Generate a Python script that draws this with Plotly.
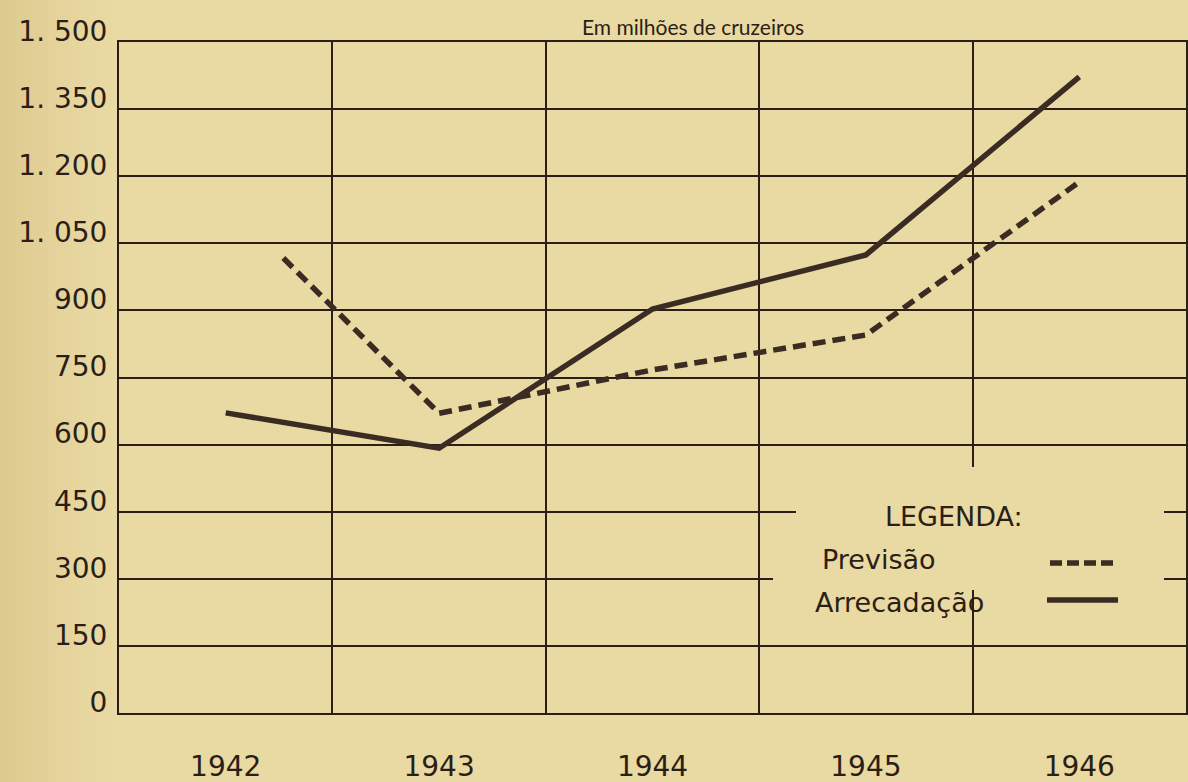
import plotly.graph_objects as go

# ---- data ----
years = [1942, 1943, 1944, 1945, 1946]
year_labels = ["1942", "1943", "1944", "1945", "1946"]
arrecadacao = [671, 592, 903, 1024, 1422]
previsao_x = [1942.27, 1943, 1944, 1945, 1946]
previsao = [1017, 670, 767, 845, 1187]
y_ticks = [0, 150, 300, 450, 600, 750, 900, 1050, 1200, 1350, 1500]
y_ticktext = ["0", "150", "300", "450", "600", "750", "900",
              "1. 050", "1. 200", "1. 350", "1. 500"]
col_bounds = [1942.5, 1943.5, 1944.5, 1945.5]

# ---- layout geometry ----
W, H = 1188, 782
L, R, T, B = 119, 1186, 42, 713
BG = "#e9d9a2"
INK = "#2b1e17"
LINE = "#3a2b23"
FONT = "DejaVu Sans"
TFONT = "Lato"


def px(xp):
    return (xp - L) / (R - L)


def py(yp):
    return (B - yp) / (B - T)


fig = go.Figure()
fig.add_trace(go.Scatter(
    x=previsao_x, y=previsao, mode="lines", name="Previsão",
    line=dict(color=LINE, width=5.5, dash="13px,7px"),
    showlegend=False, hoverinfo="skip"))
fig.add_trace(go.Scatter(
    x=years, y=arrecadacao, mode="lines", name="Arrecadação",
    line=dict(color=LINE, width=5.5),
    showlegend=False, hoverinfo="skip"))

shapes = []
# darker paper towards the left edge of the scan
n_strips = 14
for i in range(n_strips):
    shapes.append(dict(
        type="rect", xref="paper", yref="paper", layer="below",
        x0=px(i * 8), x1=px(i * 8 + 8), y0=py(H + 60), y1=py(-60),
        fillcolor="#b89a55", opacity=0.24 * (1 - i / n_strips) ** 1.5,
        line=dict(width=0)))

shapes += [
    # blank area around legend (grid interrupted)
    dict(type="rect", xref="paper", yref="paper", layer="above",
         x0=px(796), x1=px(1164), y0=py(590), y1=py(467),
         fillcolor=BG, line=dict(width=0)),
    dict(type="rect", xref="paper", yref="paper", layer="above",
         x0=px(773), x1=px(797), y0=py(590), y1=py(545),
         fillcolor=BG, line=dict(width=0)),
    # legend samples
    dict(type="line", xref="paper", yref="paper", layer="above",
         x0=px(1050), x1=px(1116), y0=py(563), y1=py(563),
         line=dict(color=LINE, width=5.5, dash="12px,5px")),
    dict(type="line", xref="paper", yref="paper", layer="above",
         x0=px(1047), x1=px(1118), y0=py(600), y1=py(600),
         line=dict(color=LINE, width=5.5)),
]

annotations = [
    dict(text="Em milhões de cruzeiros", xref="paper", yref="paper",
         x=px(693), y=1, xanchor="center", yanchor="bottom", yshift=1,
         showarrow=False, font=dict(family=TFONT, size=21, color=INK)),
    dict(text="LEGENDA:", xref="paper", yref="paper",
         x=px(883), y=py(516), xanchor="left", yanchor="middle",
         showarrow=False, font=dict(family=FONT, size=27, color=INK)),
    dict(text="Previsão", xref="paper", yref="paper",
         x=px(820), y=py(559), xanchor="left", yanchor="middle",
         showarrow=False, font=dict(family=FONT, size=27, color=INK)),
    dict(text="Arrecadação", xref="paper", yref="paper",
         x=px(813), y=py(602), xanchor="left", yanchor="middle",
         showarrow=False, font=dict(family=FONT, size=27, color=INK)),
]

fig.update_layout(
    width=W, height=H,
    margin=dict(l=L, r=W - R, t=T, b=H - B, pad=0),
    paper_bgcolor=BG, plot_bgcolor=BG,
    shapes=shapes, annotations=annotations,
    xaxis=dict(
        range=[1941.5, 1946.5], tickvals=years, ticktext=year_labels,
        showgrid=False, zeroline=False, ticks="", automargin=False,
        showline=True, mirror=True, linecolor=INK, linewidth=2,
        tickfont=dict(family=FONT, size=28, color=INK),
        ticklabelstandoff=27,
        minor=dict(tickvals=col_bounds, showgrid=True,
                   gridcolor=INK, gridwidth=2, ticks=""),
    ),
    yaxis=dict(
        range=[0, 1500], tickvals=y_ticks, ticktext=y_ticktext,
        showgrid=True, gridcolor=INK, gridwidth=2, zeroline=False,
        ticks="", showline=True, mirror=True, linecolor=INK, linewidth=2,
        automargin=False,
        tickfont=dict(family=FONT, size=28, color=INK),
        ticklabelstandoff=4, ticklabelshift=-11,
    ),
)

fig.write_html("out.html", config={"displayModeBar": False},
               post_script="document.body.style.margin='0px';")
